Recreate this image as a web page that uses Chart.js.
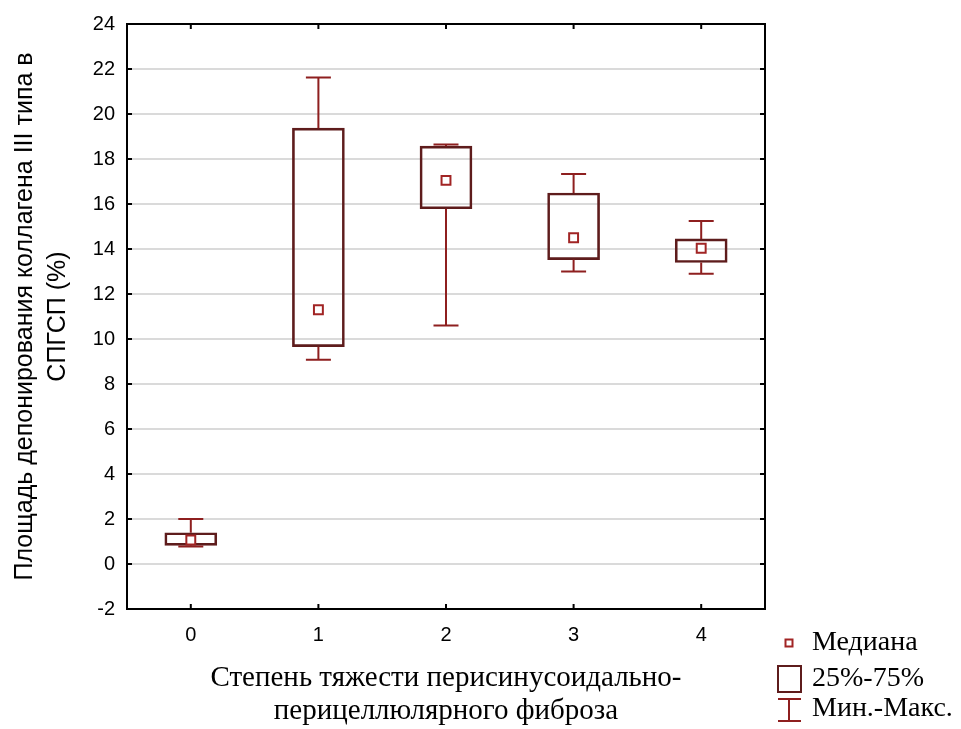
<!DOCTYPE html>
<html>
<head>
<meta charset="utf-8">
<script src="https://cdn.jsdelivr.net/npm/chart.js@4"></script>
<style>
  html, body { margin: 0; padding: 0; background: #fff; }
  #wrap { width: 961px; height: 729px; }
</style>
</head>
<body>
<div id="wrap"><canvas id="boxChart" width="961" height="729"></canvas></div>
<script>
// --- Data ---
const categories = ['0', '1', '2', '3', '4'];
const minVals = [0.78, 9.08, 10.6, 13.0, 12.9];
const q1Vals = [0.83, 9.66, 15.79, 13.53, 13.4];
const medianVals = [1.07, 11.3, 17.05, 14.5, 14.03];
const q3Vals = [1.39, 19.37, 18.57, 16.49, 14.45];
const maxVals = [2.0, 21.62, 18.65, 17.33, 15.25];
const yMin = -2, yMax = 24, yStep = 2;

const xTitle = ['Степень тяжести перисинусоидально-', 'перицеллюлярного фиброза'];
const yTitle = ['Площадь депонирования коллагена III типа в', 'СПГСП (%)'];
const legendLabels = ['Медиана', '25%-75%', 'Мин.-Макс.'];

const boxColor = '#5e1c1c';
const whiskerColor = '#8e1f1f';
const medianColor = '#a12424';

// whiskers (min-max) drawn over the chart with the scales
const whiskerPlugin = {
    id: 'whiskers',
    afterDatasetsDraw(chart) {
        const { ctx, scales: { x, y } } = chart;
        const cap = 12.5;
        ctx.save();
        ctx.strokeStyle = whiskerColor;
        ctx.lineWidth = 2;
        categories.forEach((c, i) => {
            const px = x.getPixelForValue(i);
            const segs = [[q3Vals[i], maxVals[i]], [q1Vals[i], minVals[i]]];
            segs.forEach(([from, to]) => {
                ctx.beginPath();
                ctx.moveTo(px, y.getPixelForValue(from));
                ctx.lineTo(px, y.getPixelForValue(to));
                ctx.moveTo(px - cap, y.getPixelForValue(to));
                ctx.lineTo(px + cap, y.getPixelForValue(to));
                ctx.stroke();
            });
        });
        ctx.restore();
    }
};

// frame on top/right, inward tick marks, legend
const framePlugin = {
    id: 'frame',
    afterDraw(chart) {
        const { ctx, chartArea: a, scales: { x, y } } = chart;
        const t = 5;
        ctx.save();
        ctx.strokeStyle = '#000';
        ctx.lineWidth = 2;
        ctx.beginPath();
        ctx.moveTo(a.left - 1, a.top);
        ctx.lineTo(a.right, a.top);
        ctx.lineTo(a.right, a.bottom + 1);
        y.ticks.forEach((tk, i) => {
            const py = y.getPixelForTick(i);
            ctx.moveTo(a.left, py); ctx.lineTo(a.left + t, py);
            ctx.moveTo(a.right, py); ctx.lineTo(a.right - t, py);
        });
        x.ticks.forEach((tk, i) => {
            const px = x.getPixelForTick(i);
            ctx.moveTo(px, a.bottom); ctx.lineTo(px, a.bottom - t);
            ctx.moveTo(px, a.top); ctx.lineTo(px, a.top + t);
        });
        ctx.stroke();

        // legend
        const lx = 789, tx = 812;
        const rows = [643, 679, 709];
        ctx.font = '28px "Liberation Serif"';
        ctx.fillStyle = '#000';
        ctx.textBaseline = 'middle';
        legendLabels.forEach((s, i) => ctx.fillText(s, tx, rows[i]));

        ctx.lineWidth = 2;
        ctx.strokeStyle = medianColor;
        ctx.strokeRect(lx - 3.5, rows[0] - 3.5, 7, 7);
        ctx.strokeStyle = boxColor;
        ctx.strokeRect(lx - 11, rows[1] - 13, 23, 26);
        ctx.strokeStyle = whiskerColor;
        ctx.beginPath();
        ctx.moveTo(lx - 11, rows[2] - 10); ctx.lineTo(lx + 12, rows[2] - 10);
        ctx.moveTo(lx, rows[2] - 10); ctx.lineTo(lx, rows[2] + 12);
        ctx.moveTo(lx - 11, rows[2] + 12); ctx.lineTo(lx + 12, rows[2] + 12);
        ctx.stroke();
        ctx.restore();
    }
};

document.addEventListener('DOMContentLoaded', function () {
    const ctx = document.getElementById('boxChart');
    new Chart(ctx, {
        type: 'bar',
        data: {
            labels: categories,
            datasets: [{
                type: 'line',
                label: legendLabels[0],
                data: medianVals,
                showLine: false,
                pointStyle: 'rect',
                pointRadius: 6.3,
                pointBorderWidth: 2,
                pointBorderColor: medianColor,
                pointBackgroundColor: '#fff',
                order: 0
            }, {
                label: legendLabels[1],
                data: q1Vals.map((v, i) => [v, q3Vals[i]]),
                backgroundColor: 'rgba(255,255,255,0)',
                borderColor: boxColor,
                borderWidth: 2,
                borderSkipped: false,
                barThickness: 52,
                order: 1
            }]
        },
        options: {
            responsive: false,
            animation: false,
            layout: { padding: { top: 20, right: 196, left: 0, bottom: 0 } },
            plugins: {
                legend: { display: false },
                tooltip: { enabled: false }
            },
            scales: {
                x: {
                    grid: { display: false, drawTicks: false },
                    border: { display: true, color: '#000', width: 2 },
                    ticks: { color: '#000', padding: 14, font: { family: 'Liberation Sans', size: 20 } },
                    title: {
                        display: true,
                        text: xTitle,
                        color: '#000',
                        font: { family: 'Liberation Serif', size: 29, lineHeight: 1.14 },
                        padding: { top: 0, bottom: 1 }
                    },
                    afterFit: s => { s.height = 120; }
                },
                y: {
                    min: yMin,
                    max: yMax,
                    grid: { color: '#dadada', lineWidth: 2, drawTicks: false },
                    border: { display: true, color: '#000', width: 2 },
                    ticks: { stepSize: yStep, color: '#000', padding: 12, font: { family: 'Liberation Sans', size: 20 } },
                    title: {
                        display: true,
                        text: yTitle,
                        color: '#000',
                        font: { family: 'Liberation Sans', size: 25, lineHeight: 1.32 },
                        padding: { top: 9, bottom: 0 }
                    },
                    afterFit: s => { s.width = 127; }
                }
            }
        },
        plugins: [whiskerPlugin, framePlugin]
    });
});
</script>
</body>
</html>
